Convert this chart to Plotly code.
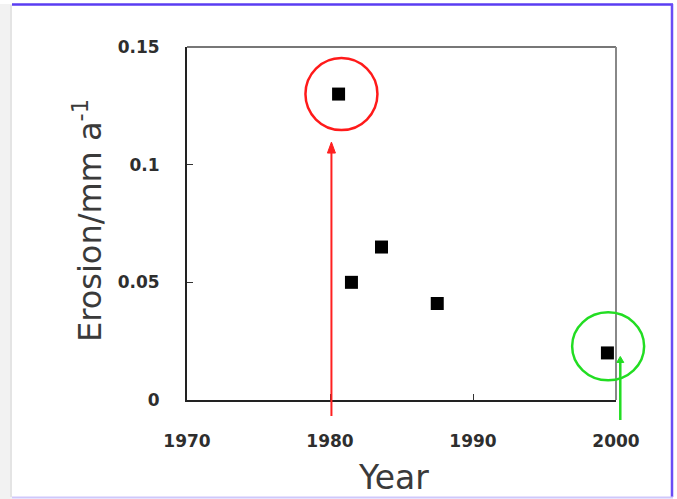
import plotly.graph_objects as go

years = [1980.6, 1981.5, 1983.6, 1987.5, 1999.4]
erosion = [0.13, 0.05, 0.065, 0.041, 0.02]
x_ticks = [1970, 1980, 1990, 2000]
y_ticks = [0, 0.05, 0.1, 0.15]
y_tick_text = ["0", "0.05", "0.1", "0.15"]

W, H = 677, 499
L, R, T, B = 187, 61, 47, 99
pw, ph = W - L - R, H - T - B
X0, X1, Y0, Y1 = 1970, 2000, 0, 0.15

def px(xp):
    return (xp - L) / pw

def py(yp):
    return (H - B - yp) / ph

def dx(v):
    return (v - X0) / (X1 - X0)

def dy(v):
    return (v - Y0) / (Y1 - Y0)

fig = go.Figure()
fig.add_trace(go.Scatter(
    x=years, y=erosion, mode="markers",
    marker=dict(symbol="square", size=13, color="black"),
    showlegend=False, cliponaxis=False,
))

tickfont = dict(family="DejaVu Sans", size=17, color="#2e2e2e", weight="bold")
fig.update_xaxes(range=[X0, X1], tickvals=x_ticks, ticks="inside", ticklen=6,
                 tickcolor="#333", showgrid=False, zeroline=False,
                 showline=True, linecolor="#222", linewidth=2,
                 tickfont=tickfont, ticklabelstandoff=25)
fig.update_yaxes(range=[Y0, Y1], tickvals=y_ticks, ticktext=y_tick_text, ticks="inside",
                 ticklen=6, tickcolor="#333", showgrid=False, zeroline=False,
                 showline=True, linecolor="#222", linewidth=2,
                 tickfont=tickfont, ticklabelstandoff=22)

shapes = []
# top & right frame (gray)
shapes.append(dict(type="line", xref="paper", yref="paper", x0=0, x1=1, y0=1, y1=1,
                   line=dict(color="#777", width=2)))
shapes.append(dict(type="line", xref="paper", yref="paper", x0=1, x1=1, y0=0, y1=1,
                   line=dict(color="#888", width=2)))
# outer page frame
shapes.append(dict(type="rect", xref="paper", yref="paper", x0=px(0), x1=px(12),
                   y0=py(499), y1=py(4), fillcolor="#f2f2f2", line=dict(width=0), layer="below"))
shapes.append(dict(type="line", xref="paper", yref="paper", x0=px(11), x1=px(11),
                   y0=py(497), y1=py(5), line=dict(color="#e4e4e4", width=2)))
shapes.append(dict(type="line", xref="paper", yref="paper", x0=px(12), x1=px(673),
                   y0=py(4.5), y1=py(4.5), line=dict(color="#5a3df2", width=2.5)))
shapes.append(dict(type="line", xref="paper", yref="paper", x0=px(672), x1=px(672),
                   y0=py(497), y1=py(4), line=dict(color="#6a4cf5", width=2.5)))
shapes.append(dict(type="line", xref="paper", yref="paper", x0=px(12), x1=px(673),
                   y0=py(497.5), y1=py(497.5), line=dict(color="#cfc8fb", width=2)))
# highlight circles
shapes.append(dict(type="circle", xref="paper", yref="paper", xsizemode="pixel", ysizemode="pixel",
                   xanchor=dx(1980.8), yanchor=dy(0.13), x0=-36, x1=36, y0=-36, y1=36,
                   line=dict(color="#ff1a1a", width=2.5)))
shapes.append(dict(type="circle", xref="paper", yref="paper", xsizemode="pixel", ysizemode="pixel",
                   xanchor=dx(1999.45), yanchor=dy(0.0228), x0=-36, x1=36, y0=-34, y1=34,
                   line=dict(color="#22dd22", width=2.5)))
# red & green arrows
shapes.append(dict(type="line", xref="paper", yref="paper", x0=dx(1980.1), x1=dx(1980.1),
                   y0=dy(-0.0068), y1=dy(0.106), line=dict(color="#ff2020", width=2)))
shapes.append(dict(type="path", xref="paper", yref="paper", xsizemode="pixel", ysizemode="pixel",
                   xanchor=dx(1980.1), yanchor=dy(0.1096), path="M0,0 L-4,-11 L4,-11 Z",
                   fillcolor="#ff2020", line=dict(color="#ff2020", width=1)))
shapes.append(dict(type="line", xref="paper", yref="paper", x0=dx(2000.3), x1=dx(2000.3),
                   y0=dy(-0.0085), y1=dy(0.017), line=dict(color="#22dd22", width=2.5)))
shapes.append(dict(type="path", xref="paper", yref="paper", xsizemode="pixel", ysizemode="pixel",
                   xanchor=dx(2000.3), yanchor=dy(0.0185), path="M0,0 L-3.5,-6 L3.5,-6 Z",
                   fillcolor="#22dd22", line=dict(color="#22dd22", width=1)))

annotations = [
    dict(x=px(393), y=py(478), xref="paper", yref="paper", text="Year",
         showarrow=False, font=dict(family="DejaVu Sans", size=33, color="#3a3a3a"),
         xanchor="center", yanchor="middle"),
    dict(x=px(88), y=py(221), xref="paper", yref="paper", text="Erosion/mm a<sup>-1</sup>",
         textangle=-90, showarrow=False,
         font=dict(family="DejaVu Sans", size=32, color="#3a3a3a"),
         xanchor="center", yanchor="middle"),
]

fig.update_layout(
    width=W, height=H, margin=dict(l=L, r=R, t=T, b=B),
    paper_bgcolor="white", plot_bgcolor="white",
    shapes=shapes, annotations=annotations,
)
fig.write_html("out.html", config={"displayModeBar": False},
               post_script="document.body.style.margin='0';document.body.style.overflow='hidden';")
